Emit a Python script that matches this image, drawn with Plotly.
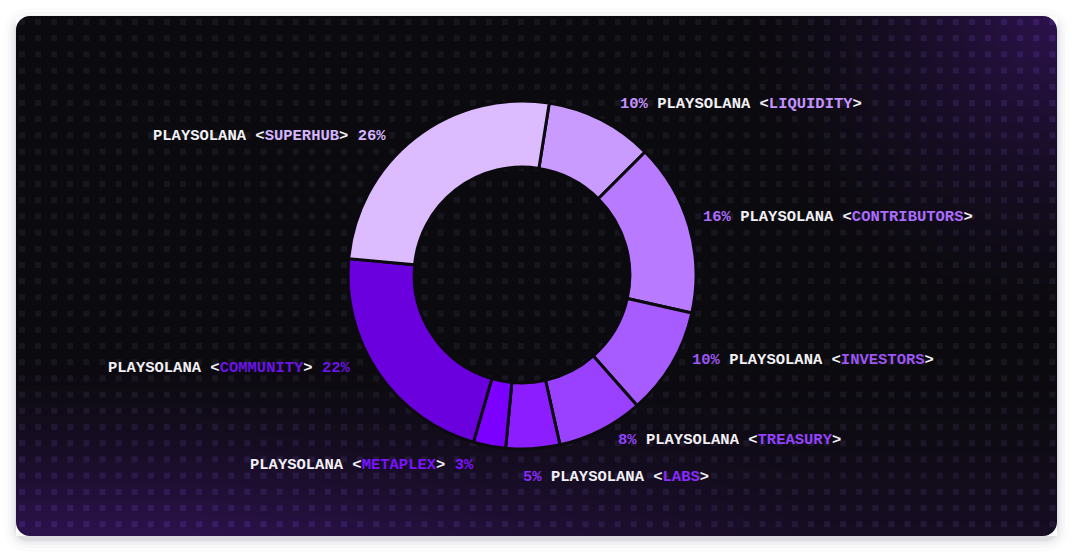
import numpy as np
import plotly.graph_objects as go

# ---- data ----
segments = ["LIQUIDITY", "CONTRIBUTORS", "INVESTORS", "TREASURY", "LABS", "METAPLEX", "COMMUNITY", "SUPERHUB"]
shares = [10, 16, 10, 8, 5, 3, 22, 26]
brand = "PLAYSOLANA"
slice_colors = ["#c99bff", "#b87bff", "#a65cff", "#9a40ff", "#8b1dff", "#7c00ff", "#6a00dd", "#dcbcff"]
text_colors = ["#c592ff", "#ab6cff", "#9e55f5", "#9442ff", "#8a2aff", "#7a12ff", "#6a14e6", "#d6b4ff"]

W, H = 1080, 559
CX0, CY0, CX1, CY1, RAD = 16, 16, 1057, 536, 14
BASE = "#0b0a0e"

fig = go.Figure()

# ---- card background (decorative gradient) ----
nx, ny = 104, 52
xe = np.linspace(CX0, CX1, nx + 1)
ye = np.linspace(CY0, CY1, ny + 1)
xc = (xe[:-1] + xe[1:]) / 2
yc = (ye[:-1] + ye[1:]) / 2
XX, YY = np.meshgrid(xc, yc)


def glow(X, Y):
    b = np.clip((Y - 350) / (CY1 - 350), 0, 1) ** 1.6 * np.clip(1.2 - X / 950, 0.35, 1)
    d = np.hypot(X - CX1, Y - CY0)
    t = np.clip(1 - d / 330, 0, 1) ** 1.6
    return np.clip(np.maximum(b, t), 0, 1)


fig.add_trace(go.Heatmap(
    x=xe, y=ye, z=glow(XX, YY), zsmooth="best",
    colorscale=[[0, BASE], [1, "#2c124d"]], zmin=0, zmax=1,
    showscale=False, hoverinfo="skip",
))

# dot grid
gx = np.arange(22, CX1 - 2, 16.1)
gy = np.arange(22, CY1 - 2, 16.2)
DX, DY = np.meshgrid(gx, gy)
fig.add_trace(go.Scatter(
    x=DX.ravel(), y=DY.ravel(), mode="markers",
    marker=dict(symbol="square", size=6, color=glow(DX, DY).ravel(),
                colorscale=[[0, "#17161d"], [1, "#3d1d6c"]], cmin=0, cmax=1,
                line=dict(width=0)),
    hoverinfo="skip", showlegend=False,
))

# ---- donut ----
cx, cy, R = 522, 275, 174
fig.add_trace(go.Pie(
    labels=segments, values=shares, sort=False, direction="clockwise", rotation=9,
    hole=0.62, textinfo="none", hoverinfo="skip", showlegend=False,
    marker=dict(colors=slice_colors, line=dict(color=BASE, width=3)),
    domain=dict(x=[(cx - R) / W, (cx + R) / W], y=[1 - (cy + R) / H, 1 - (cy - R) / H]),
))

# ---- labels ----
WHITE = "#f2f0f5"
# (x, y, anchor, percent-first)
label_pos = {
    "LIQUIDITY": (618, 104, "left", True),
    "CONTRIBUTORS": (701, 217, "left", True),
    "INVESTORS": (690, 360, "left", True),
    "TREASURY": (616, 440, "left", True),
    "LABS": (521, 477, "left", True),
    "METAPLEX": (476, 465, "right", False),
    "COMMUNITY": (353, 368, "right", False),
    "SUPERHUB": (388, 136, "right", False),
}
for name, val, col in zip(segments, shares, text_colors):
    x, y, anchor, pct_first = label_pos[name]
    pct = f"<span style='color:{col}'>{val}%</span>"
    body = (f"<span style='color:{WHITE}'>{brand} &lt;</span>"
            f"<span style='color:{col}'>{name}</span>"
            f"<span style='color:{WHITE}'>&gt;</span>")
    txt = f"{pct} {body}" if pct_first else f"{body} {pct}"
    fig.add_annotation(x=x, y=y, xref="x", yref="y", text=txt, showarrow=False,
                       xanchor=anchor, yanchor="middle",
                       font=dict(family="Liberation Mono", size=15.5, color=WHITE, weight="bold"))

# ---- card corners / shadow ----
k = 0.5523 * RAD


def corner(px, py, sx, sy):
    a = (px + sx * RAD, py)
    b = (px, py + sy * RAD)
    c1 = (px + sx * (RAD - k), py)
    c2 = (px, py + sy * (RAD - k))
    return (f"M {px},{py} L {a[0]},{a[1]} C {c1[0]},{c1[1]} {c2[0]},{c2[1]} {b[0]},{b[1]} Z")


shapes = []
for grow, op in [(12, 0.012), (8, 0.018), (5, 0.025), (2.5, 0.035), (1, 0.05)]:
    x0, y0, x1, y1 = CX0 - grow, CY0 - grow + 4, CX1 + grow, CY1 + grow + 4
    r = RAD + grow
    path = (f"M {x0+r},{y0} L {x1-r},{y0} Q {x1},{y0} {x1},{y0+r} L {x1},{y1-r} "
            f"Q {x1},{y1} {x1-r},{y1} L {x0+r},{y1} Q {x0},{y1} {x0},{y1-r} "
            f"L {x0},{y0+r} Q {x0},{y0} {x0+r},{y0} Z")
    shapes.append(dict(type="path", path=path, xref="x", yref="y", layer="below",
                       fillcolor=f"rgba(20,10,40,{op})", line=dict(width=0)))
for px, py, sx, sy in [(CX0, CY0, 1, 1), (CX1, CY0, -1, 1), (CX0, CY1, 1, -1), (CX1, CY1, -1, -1)]:
    shapes.append(dict(type="path", path=corner(px, py, sx, sy), xref="x", yref="y",
                       layer="above", fillcolor="#ffffff", line=dict(width=0)))

fig.update_layout(
    width=W, height=H, margin=dict(l=0, r=0, t=0, b=0),
    paper_bgcolor="#ffffff", plot_bgcolor="rgba(0,0,0,0)",
    xaxis=dict(range=[0, W], visible=False, fixedrange=True),
    yaxis=dict(range=[H, 0], visible=False, fixedrange=True),
    shapes=shapes, showlegend=False,
)

fig.write_html("out.html", config={"displayModeBar": False},
               post_script="document.body.style.margin='0';document.body.style.overflow='hidden';")
